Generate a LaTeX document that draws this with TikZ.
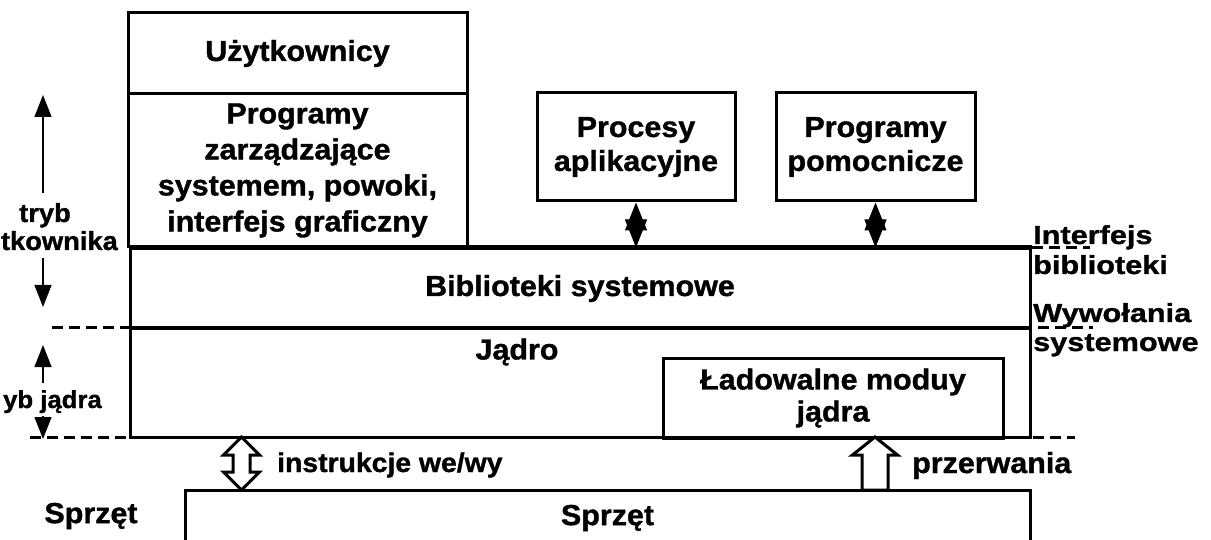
\documentclass[tikz,border=0pt]{standalone}
\usepackage{fontspec}
\setmainfont{Liberation Sans}[FakeStretch=1.05, BoldFeatures={FakeBold=1.2}]
\newfontfamily\widefont{Liberation Sans}[FakeStretch=1.18, BoldFeatures={FakeBold=1.2}]
\usetikzlibrary{arrows.meta,calc}
\tikzset{
	layerbox/.style={draw, line width=3pt, inner sep=0pt, align=center, font=\bfseries\fontsize{29}{36}\selectfont},
	plaintext/.style={inner sep=0pt, font=\bfseries\fontsize{29}{36}\selectfont},
	sidetext/.style={inner sep=0pt, font=\bfseries\fontsize{26}{28}\selectfont},
	wideside/.style={inner sep=0pt, anchor=base west, font=\widefont\bfseries\fontsize{26}{27}\selectfont},
	dashline/.style={line width=3pt, dash pattern=on 11pt off 6pt},
	modearrow/.style={line width=1.2pt, -{Triangle[width=17pt,length=22pt]}},
	calltip/.style={line width=1pt, -{Triangle[width=22pt,length=28pt]}},
	blockarrow/.style={line width=3pt, line join=miter, fill=white}
}

\begin{document}
\begin{tikzpicture}[x=1pt,y=1pt,yscale=-1,xscale=1]
	\useasboundingbox (0,0) rectangle (1211,540);
	% user space
	\node[layerbox, minimum width=339, minimum height=81] (users) at (297.5,53.5) {Użytkownicy};
	\node[layerbox, minimum width=339, minimum height=153] (admin) at (297.5,170.5) {Programy\\zarządzające\\systemem, powoki,\\interfejs graficzny};
	\node[layerbox, minimum width=198, minimum height=108, font=\bfseries\fontsize{29}{34}\selectfont] (apps) at (636,147) {Procesy\\aplikacyjne};
	\node[layerbox, minimum width=199, minimum height=108, font=\bfseries\fontsize{29}{34}\selectfont] (utils) at (875.5,147) {Programy\\pomocnicze};
	\node[layerbox, minimum width=900, minimum height=79] (libs) at (580,288.5) {Biblioteki systemowe};
	\draw[line width=5pt] (libs.north west) -- (libs.north east);
	% kernel space
	\node[layerbox, minimum width=900, minimum height=110] (kernel) at (580,382) {};
	\node[plaintext] (kerneltxt) at (517,352) {Jądro};
	\node[layerbox, minimum width=340, minimum height=80, font=\bfseries\fontsize{29}{32}\selectfont] (modules) at (833,398) {Ładowalne moduy\\jądra};
	% hardware
	\node[layerbox, minimum width=845, minimum height=56] (hw) at (607.5,518) {Sprzęt};
	\node[plaintext] (hwleft) at (91,516) {Sprzęt};

	% mode boundaries
	\draw[dashline] (52,327) -- (1093,327);
	\draw[dashline] (30,437) -- (1075,437);
	\draw[dashline] (libs.north east) -- ++(58,0);

	% mode labels
	\node[sidetext, anchor=base] (umode1) at (45,222) {tryb};
	\node[sidetext, anchor=base east] (umode2) at (118,250) {tkownika};
	\node[sidetext, anchor=base east, font=\bfseries\fontsize{24.5}{28}\selectfont] (kmode) at (102,408) {yb jądra};
	\coordinate (ua1) at (43,193); \coordinate (ua2) at (43,95);
	\coordinate (ud1) at (43,258); \coordinate (ud2) at (43,307);
	\coordinate (ka1) at (43,383); \coordinate (ka2) at (43,345);
	\coordinate (kd1) at (43,416); \coordinate (kd2) at (43,439);
	\draw[modearrow] (ua1) -- (ua2);
	\draw[modearrow] (ud1) -- (ud2);
	\draw[modearrow] (ka1) -- (ka2);
	\draw[modearrow] (kd1) -- (kd2);

	% interface labels
	\node[wideside] (if1) at (1033,244) {Interfejs};
	\node[wideside] (if2) at (1033,274) {biblioteki};
	\node[wideside] (sc1) at (1033,322) {Wywołania};
	\node[wideside] (sc2) at (1033,351) {systemowe};

	% library calls
	\coordinate (appsend) at (apps.south |- libs.north);
	\coordinate (utilsend) at (utils.south |- libs.north);
	\coordinate (appsmid) at ($(apps.south)!0.5!(appsend)$);
	\coordinate (utilsmid) at ($(utils.south)!0.5!(utilsend)$);
	\draw[calltip] (appsmid) -- (apps.south);
	\draw[calltip] (appsmid) -- (appsend);
	\draw[calltip] (utilsmid) -- (utils.south);
	\draw[calltip] (utilsmid) -- (utilsend);

	% hardware arrows
	\coordinate (iotop) at (241.5,437);
	\draw[blockarrow] (iotop) -- ++(18,18) -- ++(-9.5,0) -- ++(0,17) -- ++(9.5,0) -- ++(-18,18) -- ++(-18,-18) -- ++(9.5,0) -- ++(0,-17) -- ++(-9.5,0) -- cycle;
	\node[sidetext, anchor=base west, font=\bfseries\fontsize{27}{28}\selectfont] (iotxt) at (277,472) {instrukcje we/wy};
	\coordinate (irqtop) at (875,437);
	\draw[blockarrow] (irqtop) -- ++(22.5,18) -- ++(-9.5,0) -- ++(0,35) -- ++(-26,0) -- ++(0,-35) -- ++(-9.5,0) -- cycle;
	\node[plaintext, anchor=base west] (irqtxt) at (912,473) {przerwania};
\end{tikzpicture}
\end{document}
